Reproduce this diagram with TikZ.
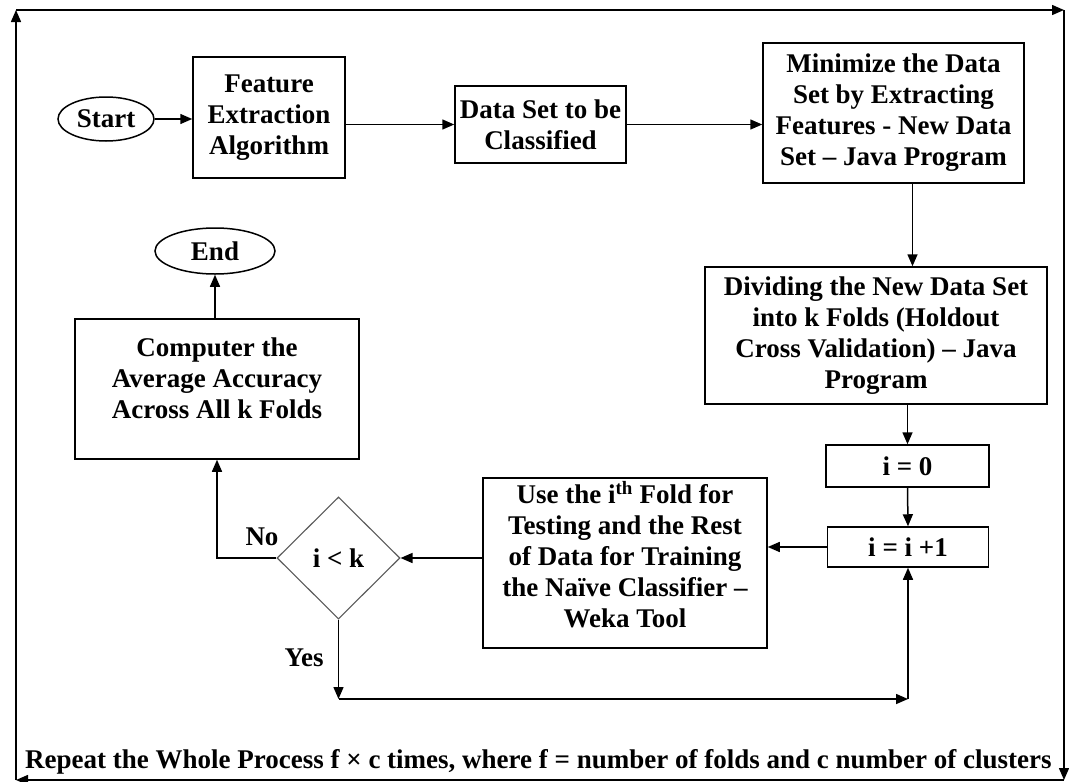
\documentclass[tikz,border=0pt]{standalone}
\usepackage{fontspec}
\setmainfont{Liberation Serif}
\usetikzlibrary{arrows.meta,shapes.geometric}
\begin{document}
\begin{tikzpicture}[x=1pt,y=-1pt,
  every node/.style={font=\fontsize{27}{31}\selectfont\bfseries},
  box/.style={draw, line width=1.5pt, align=center, inner sep=0pt},
  oval/.style={draw, ellipse, line width=1.5pt, inner sep=0pt},
  decision/.style={draw=black!65, diamond, line width=1.1pt, inner sep=0pt,
                   minimum width=123pt, minimum height=122pt},
  flow/.style={line width=1.5pt, -{Triangle[length=12pt,width=10pt]}},
  frame/.style={line width=1.5pt, -{Triangle[length=12pt,width=10pt]}},
  tag/.style={inner sep=0pt}]
\useasboundingbox (0,0) rectangle (1069,782);

% outer loop frame
\coordinate (tl) at (16,10);
\coordinate (tr) at (1064,10);
\coordinate (br) at (1064,780);
\coordinate (bl) at (16,780);
\draw[frame] (tl) -- (tr);
\draw[frame] (tr) -- (br);
\draw[frame] (br) -- (bl);
\draw[frame] (bl) -- (tl);

% nodes
\node[oval, minimum width=96pt, minimum height=44pt] (start) at (106,119) {Start};
\node[box, minimum width=152pt, minimum height=121pt] (feat) at (269,117.5)
  {Feature\\Extraction\\Algorithm};
\node[box, minimum width=171pt, minimum height=77pt] (data) at (540.5,124.5)
  {Data Set to be\\Classified};
\node[box, minimum width=261pt, minimum height=140pt] (mini) at (893.5,113)
  {Minimize the Data\\Set by Extracting\\Features - New Data\\Set -- Java Program};
\node[box, minimum width=342pt, minimum height=137pt] (div) at (876,335.5)
  {Dividing the New Data Set\\into k Folds (Holdout\\Cross Validation) -- Java\\Program};
\node[box, minimum width=163pt, minimum height=42pt] (i0) at (907.5,466) {i = 0};
\node[box, minimum width=161pt, minimum height=40pt] (ii) at (908,547) {i = i +1};
\node[box, minimum width=284pt, minimum height=170pt] (use) at (625,563) {};
\node[tag, align=center] (usetext) at ([yshift=8pt]use.center)
  {Use the i\textsuperscript{th} Fold for\\Testing and the Rest\\of Data for Training\\the Naïve Classifier --\\Weka Tool};
\node[decision] (dec) at (338.5,558) {i < k};
\node[box, minimum width=284pt, minimum height=140pt] (comp) at (217,389) {};
\node[tag, align=center] (comptext) at ([yshift=11pt]comp.center)
  {Computer the\\Average Accuracy\\Across All k Folds};
\node[oval, minimum width=120pt, minimum height=46pt] (end) at (215,251) {End};

\node[tag] (no) at (262,537) {No};
\node[tag] (yes) at (304,658) {Yes};
\node[tag, anchor=base west] (repeat) at (25,768)
  {Repeat the Whole Process f × c times, where f = number of folds and c number of clusters};

% connectors
\draw[flow] (start.east) -- (start.east -| feat.west);
\draw[flow] (feat.east |- data.west) -- (data.west);
\draw[flow] (data.east) -- (data.east -| mini.west);
\draw[flow] ([xshift=19pt]mini.south) -- ([xshift=19pt]mini.south |- div.north);
\draw[flow] (i0.north |- div.south) -- (i0.north);
\draw[flow] (i0.south) -- (ii.north);
\draw[flow] (ii.west) -- (ii.west -| use.east);
\draw[flow] (dec.east -| use.west) -- (dec.east);
\draw[flow] (dec.west) -| (comp.south);
\draw[flow] (end.south |- comp.north) -- (end.south);
\coordinate (ycorner) at (dec.south |- 0,699);
\coordinate (rcorner) at (ii.south |- ycorner);
\draw[flow] (dec.south) -- (ycorner);
\draw[flow] (ycorner) -- (rcorner);
\draw[flow] (rcorner) -- (ii.south);
\end{tikzpicture}
\end{document}
